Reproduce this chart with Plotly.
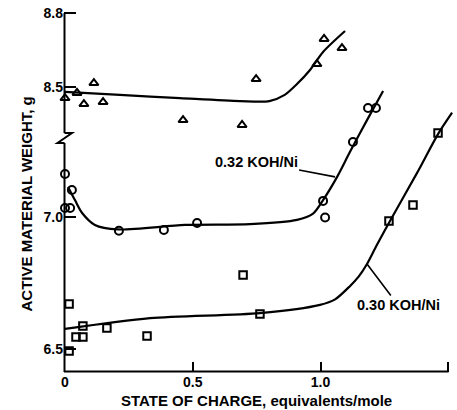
import plotly.graph_objects as go

# ---- data (x: state of charge, equivalents/mole; y: weight, g) ----
# upper (unlabelled) series, triangles, drawn on the upper broken-axis scale
tri_x = [0.0, 0.047, 0.113, 0.074, 0.149, 0.462, 0.693, 0.748, 0.986, 1.014, 1.084]
tri_y = [8.455, 8.476, 8.516, 8.431, 8.439, 8.366, 8.346, 8.532, 8.593, 8.695, 8.658]
tri_fit_x = [0.0, 0.215, 0.45, 0.685, 0.80, 0.86, 0.908, 0.959, 1.01, 1.096]
tri_fit_y = [8.480, 8.468, 8.455, 8.443, 8.443, 8.468, 8.512, 8.569, 8.642, 8.727]

# 0.32 KOH/Ni, circles
circ_x = [0.0, 0.027, 0.0, 0.02, 0.211, 0.387, 0.517, 1.010, 1.018, 1.127, 1.186, 1.217]
circ_y = [7.163, 7.102, 7.034, 7.034, 6.948, 6.951, 6.977, 7.061, 6.998, 7.284, 7.413, 7.413]
circ_fit_x = [0.012, 0.039, 0.067, 0.117, 0.207, 0.470, 0.724, 0.908, 0.971, 1.010, 1.065, 1.115, 1.182, 1.245]
circ_fit_y = [7.114, 7.064, 7.015, 6.970, 6.953, 6.970, 6.973, 6.989, 7.013, 7.064, 7.152, 7.246, 7.367, 7.477]

# 0.30 KOH/Ni, squares
sq_x = [0.016, 0.016, 0.070, 0.043, 0.070, 0.164, 0.321, 0.697, 0.763, 1.268, 1.362, 1.460]
sq_y = [6.492, 6.670, 6.587, 6.545, 6.545, 6.580, 6.549, 6.780, 6.633, 6.985, 7.045, 7.318]
sq_fit_x = [0.0, 0.333, 0.763, 0.998, 1.057, 1.115, 1.15, 1.182, 1.22, 1.272, 1.378, 1.460, 1.515]
sq_fit_y = [6.576, 6.617, 6.636, 6.667, 6.688, 6.738, 6.775, 6.822, 6.893, 6.985, 7.167, 7.314, 7.395]

x_ticks = [0, 0.5, 1.0, 1.5]
x_ticktext = ["0", "0.5", "1.0", "1.5"]
y_low_ticks = [6.5, 7.0]
y_low_text = ["6.5", "7.0"]
y_up_ticks = [8.5, 8.8]
y_up_text = ["8.5", "8.8"]

label_032 = "0.32 KOH/Ni"
label_030 = "0.30 KOH/Ni"
x_title = "STATE OF CHARGE, equivalents/mole"
y_title = "ACTIVE MATERIAL WEIGHT, g"

# ---- layout geometry ----
W, H = 457, 410
ML, MR, MT, MB = 64, 1, 10, 38
PW = W - ML - MR
PH = H - MT - MB
BLACK = "#000000"
FONT = "Liberation Sans"


def xp(px):
    return (px - ML) / PW


def yp(py):
    return (H - MB - py) / PH


fig = go.Figure()
mk = dict(color=BLACK, size=8, line=dict(color=BLACK, width=2))

fig.add_trace(go.Scatter(x=tri_fit_x, y=tri_fit_y, yaxis="y2", mode="lines",
                         line=dict(color=BLACK, width=2.2, shape="spline", smoothing=0.8),
                         hoverinfo="skip"))
fig.add_trace(go.Scatter(x=tri_x, y=tri_y, yaxis="y2", mode="markers", cliponaxis=False,
                         marker=dict(symbol="triangle-up-open", **mk)))
fig.add_trace(go.Scatter(x=circ_fit_x, y=circ_fit_y, mode="lines",
                         line=dict(color=BLACK, width=2.2, shape="spline", smoothing=0.8),
                         hoverinfo="skip"))
fig.add_trace(go.Scatter(x=circ_x, y=circ_y, mode="markers", cliponaxis=False,
                         marker=dict(symbol="circle-open", **mk)))
fig.add_trace(go.Scatter(x=sq_fit_x, y=sq_fit_y, mode="lines",
                         line=dict(color=BLACK, width=2.2, shape="spline", smoothing=0.8),
                         hoverinfo="skip"))
fig.add_trace(go.Scatter(x=sq_x, y=sq_y, mode="markers", cliponaxis=False,
                         marker=dict(symbol="square-open", **{**mk, "size": 7.5})))

tickfont = dict(family=FONT, size=14, color=BLACK, weight=700)

# axis lines with the break mark (decoration, in paper coords)
shapes = [
    dict(type="line", xref="paper", yref="paper", x0=xp(64.5), x1=xp(64.5), y0=yp(372), y1=yp(143),
         line=dict(color=BLACK, width=2)),
    dict(type="path", xref="paper", yref="paper",
         path=f"M {xp(64.5)},{yp(143)} L {xp(57.5)},{yp(143)} L {xp(72)},{yp(133)} L {xp(64.5)},{yp(133)}",
         line=dict(color=BLACK, width=2)),
    dict(type="line", xref="paper", yref="paper", x0=xp(64.5), x1=xp(64.5), y0=yp(133), y1=yp(13),
         line=dict(color=BLACK, width=2)),
    dict(type="line", xref="paper", yref="paper", x0=xp(64), x1=xp(448.5), y0=yp(371.5), y1=yp(371.5),
         line=dict(color=BLACK, width=2)),
]

annotations = [
    dict(x=1.057, y=7.152, xref="x", yref="y", text=label_032, showarrow=True, arrowhead=0,
         arrowwidth=1.6, arrowcolor=BLACK, ax=-79, ay=-15,
         font=dict(family=FONT, size=14.5, color=BLACK, weight=700)),
    dict(x=1.182, y=6.822, xref="x", yref="y", text=label_030, showarrow=True, arrowhead=0,
         arrowwidth=1.6, arrowcolor=BLACK, ax=31, ay=41,
         font=dict(family=FONT, size=14.5, color=BLACK, weight=700)),
    dict(x=xp(256), y=yp(400), xref="paper", yref="paper", text=x_title, showarrow=False,
         xanchor="center", yanchor="middle",
         font=dict(family=FONT, size=15, color=BLACK, weight=700)),
    dict(x=xp(25.5), y=yp(204), xref="paper", yref="paper", text=y_title, showarrow=False,
         textangle=-90, xanchor="center", yanchor="middle",
         font=dict(family=FONT, size=15, color=BLACK, weight=700)),
]

low_range = [7.0 - (372 - 217) / 264, 7.0 + (217 - 10) / 264]
up_range = [8.5 - (372 - 87) / 246.7, 8.5 + (87 - 10) / 246.7]
x0_val = -(65 - ML) / 255.5
x_range = [x0_val, x0_val + PW / 255.5]

fig.update_layout(
    width=W, height=H,
    margin=dict(l=ML, r=MR, t=MT, b=MB),
    paper_bgcolor="white", plot_bgcolor="white",
    showlegend=False,
    xaxis=dict(range=x_range, tickvals=x_ticks, ticktext=x_ticktext, ticks="inside", ticklen=10,
               tickwidth=2, tickcolor=BLACK, showgrid=False, zeroline=False, showline=False,
               tickfont=tickfont),
    yaxis=dict(range=low_range, tickvals=y_low_ticks, ticktext=y_low_text, ticks="inside",
               ticklen=12, tickwidth=2, tickcolor=BLACK, showgrid=False, zeroline=False,
               showline=False, tickfont=tickfont),
    yaxis2=dict(range=up_range, overlaying="y", side="left", tickvals=y_up_ticks, ticktext=y_up_text,
                ticks="inside", ticklen=12, tickwidth=2, tickcolor=BLACK, showgrid=False,
                zeroline=False, showline=False, tickfont=tickfont),
    shapes=shapes,
    annotations=annotations,
)

fig.write_html("out.html", config={"displayModeBar": False},
               post_script="document.body.style.margin='0';")
